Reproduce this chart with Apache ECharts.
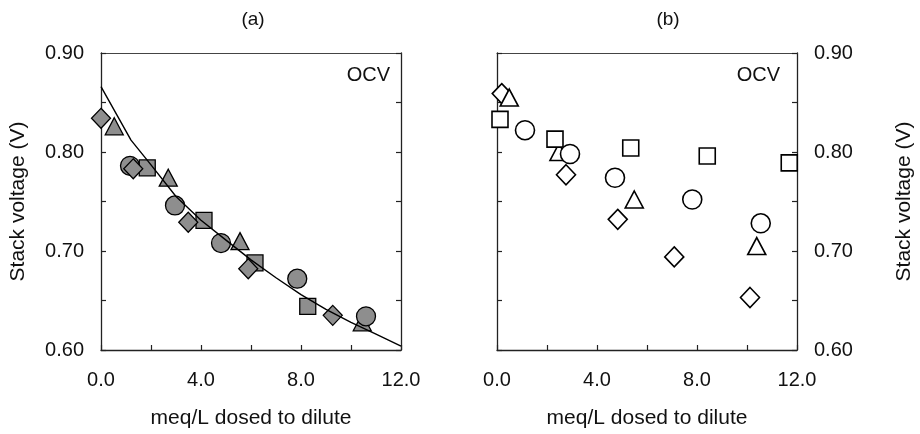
<!DOCTYPE html>
<html>
<head>
<meta charset="utf-8">
<script src="https://cdn.jsdelivr.net/npm/echarts@6/dist/echarts.min.js"></script>
<style>html,body{margin:0;padding:0;background:#fff}#c{width:920px;height:434px}</style>
</head>
<body>
<div id="c"></div>
<script>
// ---- data (meq/L dosed, stack voltage V) ----
var xTicks = [0, 4, 8, 12];
var yTicks = [0.60, 0.70, 0.80, 0.90];

// Panel (a): filled markers
var aTriangle = [[0.53, 0.826], [2.69, 0.774], [5.56, 0.710], [10.45, 0.628]];
var aCircle   = [[1.16, 0.786], [2.96, 0.746], [4.80, 0.708], [7.85, 0.672], [10.6, 0.634]];
var aSquare   = [[1.85, 0.784], [4.12, 0.731], [6.16, 0.688], [8.27, 0.644]];
var aDiamond  = [[0.0, 0.834], [1.29, 0.783], [3.49, 0.729], [5.89, 0.682], [9.27, 0.635]];
var aModel    = [[0, 0.866], [1.2, 0.812], [2, 0.787], [3, 0.755], [4, 0.731], [5, 0.711],
                 [6, 0.691], [7, 0.673], [8, 0.656], [9, 0.641], [10, 0.628], [11, 0.616], [12, 0.604]];

// Panel (b): open markers
var bDiamond  = [[0.19, 0.859], [2.76, 0.777], [4.83, 0.732], [7.09, 0.694], [10.12, 0.653]];
var bTriangle = [[0.49, 0.855], [2.48, 0.800], [5.49, 0.752], [10.39, 0.705]];
var bSquare   = [[0.12, 0.833], [2.32, 0.813], [5.35, 0.804], [8.41, 0.796], [11.69, 0.789]];
var bCircle   = [[1.12, 0.822], [2.92, 0.798], [4.72, 0.774], [7.81, 0.752], [10.55, 0.728]];

var FONT = '"Liberation Sans", Arial, sans-serif';
var AX = '#222';

function xLabel(v) { return xTicks.indexOf(Math.round(v * 100) / 100) >= 0 ? v.toFixed(1) : ''; }
function yLabel(v) {
  var r = Math.round(v * 100) / 100;
  return yTicks.some(function (t) { return Math.abs(t - r) < 1e-6; }) ? r.toFixed(2) : '';
}

function xBottom(gi) {
  return {
    gridIndex: gi, type: 'value', position: 'bottom', min: 0, max: 12, interval: 2,
    name: 'meq/L dosed to dilute', nameLocation: 'middle', nameGap: 58,
    nameTextStyle: { fontFamily: FONT, fontSize: 21, color: '#111' },
    axisLine: { show: true, onZero: false, lineStyle: { color: AX, width: 1.3 } },
    axisTick: { show: true, inside: true, length: 5, lineStyle: { color: AX, width: 1.2 } },
    axisLabel: { formatter: xLabel, margin: 20, fontFamily: FONT, fontSize: 20, color: '#111' },
    splitLine: { show: false }
  };
}
function xTop(gi) {
  return {
    gridIndex: gi, type: 'value', position: 'top', min: 0, max: 12, interval: 2,
    axisLine: { show: true, onZero: false, lineStyle: { color: '#444', width: 1.2 } },
    axisTick: { show: false }, axisLabel: { show: false }, splitLine: { show: false }
  };
}
function yAx(gi, pos, labels, gap) {
  var o = {
    gridIndex: gi, type: 'value', position: pos, min: 0.6, max: 0.9, interval: 0.05,
    axisLine: { show: true, onZero: false, lineStyle: { color: AX, width: 1.3 } },
    axisTick: { show: true, inside: true, length: 5, lineStyle: { color: AX, width: 1.2 } },
    axisLabel: { show: labels, formatter: yLabel, margin: 17, fontFamily: FONT, fontSize: 20, color: '#111' },
    splitLine: { show: false }
  };
  if (labels) {
    o.name = 'Stack voltage (V)';
    o.nameLocation = 'middle';
    o.nameGap = gap;
    o.nameRotate = 90;
    o.nameTextStyle = { fontFamily: FONT, fontSize: 21, color: '#111' };
  }
  return o;
}

function sc(name, data, sym, size, xi, yi, filled, z) {
  return {
    name: name, type: 'scatter', data: data, xAxisIndex: xi, yAxisIndex: yi,
    symbol: sym, symbolSize: size, z: z,
    itemStyle: { color: filled ? '#8e8e8e' : '#ffffff', borderColor: '#000', borderWidth: filled ? 1.3 : 1.6, opacity: 1 },
    emphasis: { disabled: true }
  };
}

var chart = echarts.init(document.getElementById('c'), null, { renderer: 'canvas' });
chart.setOption({
  animation: false,
  backgroundColor: '#fff',
  grid: [
    { left: 101, top: 53, width: 300, height: 298 },
    { left: 497, top: 53, width: 300, height: 298 }
  ],
  xAxis: [xBottom(0), xTop(0), xBottom(1), xTop(1)],
  yAxis: [yAx(0, 'left', true, 72), yAx(0, 'right', false), yAx(1, 'left', false), yAx(1, 'right', true, 97)],
  graphic: [
    { type: 'text', x: 253, y: 20, style: { text: '(a)', fontFamily: FONT, fontSize: 19, fill: '#111', align: 'center', verticalAlign: 'middle' } },
    { type: 'text', x: 668, y: 20, style: { text: '(b)', fontFamily: FONT, fontSize: 19, fill: '#111', align: 'center', verticalAlign: 'middle' } },
    { type: 'text', x: 390, y: 75, style: { text: 'OCV', fontFamily: FONT, fontSize: 20, fill: '#111', align: 'right', verticalAlign: 'middle' } },
    { type: 'text', x: 780, y: 75, style: { text: 'OCV', fontFamily: FONT, fontSize: 20, fill: '#111', align: 'right', verticalAlign: 'middle' } }
  ],
  series: [
    sc('a-triangle', aTriangle, 'triangle', [18, 17], 0, 0, true, 2),
    sc('a-circle', aCircle, 'circle', 19, 0, 0, true, 3),
    sc('a-square', aSquare, 'rect', 16, 0, 0, true, 4),
    sc('a-diamond', aDiamond, 'diamond', [19, 20], 0, 0, true, 5),
    {
      name: 'a-model', type: 'line', data: aModel, xAxisIndex: 0, yAxisIndex: 0, z: 6,
      showSymbol: false, symbol: 'none', smooth: false,
      lineStyle: { color: '#000', width: 1.4 }, emphasis: { disabled: true }
    },
    sc('b-diamond', bDiamond, 'diamond', [19, 20], 2, 3, false, 2),
    sc('b-triangle', bTriangle, 'triangle', [18, 17], 2, 3, false, 3),
    sc('b-square', bSquare, 'rect', 16, 2, 3, false, 4),
    sc('b-circle', bCircle, 'circle', 19, 2, 3, false, 5)
  ]
});
</script>
</body>
</html>
